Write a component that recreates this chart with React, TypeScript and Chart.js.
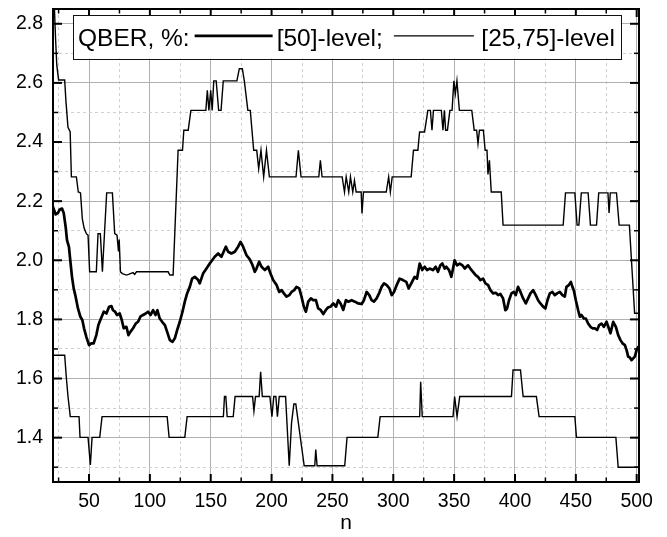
import { useEffect, useRef } from "react";
import { Chart, registerables } from "chart.js";

Chart.register(...registerables);

const FONT = "'Liberation Sans', Arial, Helvetica, sans-serif";

const xRange = [20.4, 501.9];
const yRange = [1.25, 2.85];
const xMajorTicks = [50, 100, 150, 200, 250, 300, 350, 400, 450, 500];
const xMinorTicks = [25, 75, 125, 175, 225, 275, 325, 375, 425, 475];
const yMajorTicks = [1.4, 1.6, 1.8, 2.0, 2.2, 2.4, 2.6, 2.8];
const yMinorTicks = [1.3, 1.5, 1.7, 1.9, 2.1, 2.3, 2.5, 2.7];
const legendTitle = "QBER, %:";
const medianLabel = "[50]-level;";
const quartileLabel = "[25,75]-level";
const xTitle = "n";

// upper quartile (75 %) level
const upperN = [
  20.4, 22.5, 23.5, 25, 30, 31, 32.7, 34.5, 35.5, 39.6, 41.2, 43, 44.5, 45.9, 47.8, 49.2, 50.5, 56, 57.4, 59.3,
  61, 64.5, 69.2, 71.1, 73, 74.2, 74.8, 75.8, 77.4, 80.7, 83, 86.2, 87.5, 89, 115, 116.4, 119.1, 123.2, 126.8, 127.9,
  131.5, 133.7, 146, 147.2, 148.5, 150, 151.2, 152.5, 154.5, 156.5, 158.5, 160.3, 171.5, 173.5, 176, 177.6, 180.5, 182.5, 185.3, 187.8,
  189.4, 191.3, 193.5, 195.8, 198.2, 220.1, 222, 224.2, 238.8, 240.1, 241.5, 258, 259.9, 261.3, 263.4, 264.8, 266.7, 268.1, 269.5, 273.6,
  274.3, 275.5, 294.2, 296.2, 297.6, 299.1, 314.7, 316.6, 320.2, 321.6, 325.7, 328.4, 330.5, 331.8, 333, 339.5, 340.8, 342, 343, 344.5,
  346.5, 348.3, 349.8, 351, 352.3, 354.3, 364.5, 366.5, 368.5, 369.6, 370.8, 374, 375.5, 377, 377.8, 379, 380.5, 388.7, 390.2, 439.6,
  441.5, 449.2, 451, 452.5, 454.5, 460.1, 462, 467, 468.8, 476.4, 477.3, 478.3, 483.4, 485.6, 494, 498.3, 501.9,
];
const upperQ = [
  2.98, 2.75, 2.66, 2.61, 2.61, 2.54, 2.45, 2.435, 2.282, 2.282, 2.231, 2.228, 2.14, 2.11, 2.09, 2.085, 1.961, 1.961, 2.09, 2.09,
  1.961, 2.228, 2.228, 2.09, 2.085, 2.03, 2.07, 1.961, 1.955, 1.95, 1.953, 1.958, 1.952, 1.961, 1.961, 1.95, 1.95, 2.372, 2.372, 2.44,
  2.44, 2.507, 2.507, 2.575, 2.507, 2.575, 2.507, 2.607, 2.607, 2.507, 2.507, 2.607, 2.607, 2.648, 2.648, 2.607, 2.507, 2.507, 2.372, 2.372,
  2.31, 2.372, 2.282, 2.372, 2.282, 2.282, 2.372, 2.282, 2.282, 2.338, 2.282, 2.282, 2.231, 2.282, 2.231, 2.282, 2.231, 2.27, 2.231, 2.231,
  2.158, 2.231, 2.231, 2.282, 2.231, 2.282, 2.282, 2.372, 2.372, 2.434, 2.434, 2.507, 2.507, 2.44, 2.507, 2.507, 2.44, 2.507, 2.44, 2.44,
  2.507, 2.507, 2.607, 2.563, 2.607, 2.507, 2.507, 2.44, 2.44, 2.395, 2.44, 2.44, 2.372, 2.372, 2.29, 2.338, 2.231, 2.231, 2.119, 2.119,
  2.228, 2.228, 2.119, 2.119, 2.228, 2.228, 2.119, 2.119, 2.228, 2.228, 2.16, 2.228, 2.228, 2.119, 2.119, 1.821, 1.821,
];

// median (50 %) level
const medianN = [
  20.4, 22.6, 24.5, 25.9, 27.8, 29.2, 30.8, 31.9, 33.5, 34.6, 36, 37.4, 39, 40.9, 42.9, 44.5, 45.9, 47.8, 50, 51.9,
  53.8, 56, 57.7, 59.3, 61, 62.1, 64.3, 66.5, 68.4, 69.7, 71.4, 73, 75.2, 76.9, 78.5, 80.7, 82.4, 84, 86.2, 88.4,
  90.3, 92.2, 94.4, 96.6, 98.5, 100.5, 102.7, 104.6, 106.2, 108.1, 110.1, 112.3, 114.2, 116.4, 118.6, 120.5, 122.4, 124.6, 126.8, 128.7,
  130.6, 132.8, 134.7, 136.9, 139.7, 141, 143.7, 146.5, 149.2, 153.3, 156.1, 158.8, 162.4, 164.3, 167, 169.8, 172.5, 174.5, 176.6, 179.4,
  182.1, 184.3, 186.2, 187.6, 189.8, 191.7, 194.5, 197.2, 199.1, 201.3, 204.1, 206.3, 208.2, 210.1, 212.3, 214.5, 216.4, 218.6, 220.5, 222.7,
  224.6, 226.5, 228.2, 230.1, 232.3, 234.2, 236.4, 238.3, 240.3, 242.5, 244.6, 246.6, 248.5, 250.7, 252.9, 254.8, 256.7, 258.9, 261.1, 263,
  265.8, 268.5, 271.2, 274, 275.9, 278.1, 280.3, 282.2, 284.1, 286.3, 288.5, 290.4, 292.4, 294.6, 296.8, 298.7, 300.6, 302.8, 305.2, 307.9,
  310.7, 312.6, 314.8, 317.5, 319.5, 321.7, 323.8, 325.8, 327.7, 329.9, 332.6, 334.8, 336.7, 338.7, 340.3, 342.2, 343.6, 345.8, 347.7, 349.1,
  350.4, 352.4, 354.6, 356.8, 358.7, 361.4, 363.3, 365.5, 367.7, 369.6, 371.6, 373.8, 375.7, 377.9, 379.8, 382, 384.2, 386.1, 388, 390.2,
  392.1, 393.5, 395.1, 397.1, 399, 400.6, 402.5, 404.5, 406.7, 408.9, 410.8, 412.7, 414.9, 417.1, 419, 420.9, 423.1, 425, 426.7, 428.6,
  430.8, 432.7, 434.6, 436.8, 439, 440.9, 442.3, 444.2, 445.9, 447.2, 448.3, 450, 451.9, 453.3, 454.6, 456.6, 458.2, 460.1, 462, 463.7,
  465.6, 467.5, 469.2, 471.1, 473, 475.2, 477.1, 478.5, 480.7, 482.9, 484.8, 486.7, 488.4, 490.3, 491.7, 493, 494.4, 495.8, 497.1, 498.5,
  499.9, 501.3,
];
const medianQ = [
  2.18, 2.155, 2.16, 2.172, 2.175, 2.16, 2.113, 2.068, 2.045, 2.0, 1.944, 1.905, 1.877, 1.837, 1.809, 1.798, 1.77, 1.741, 1.713, 1.719,
  1.719, 1.747, 1.781, 1.798, 1.815, 1.826, 1.82, 1.843, 1.845, 1.831, 1.826, 1.815, 1.82, 1.798, 1.77, 1.775, 1.747, 1.758, 1.77, 1.786,
  1.792, 1.809, 1.815, 1.82, 1.826, 1.815, 1.831, 1.815, 1.831, 1.803, 1.792, 1.781, 1.758, 1.73, 1.724, 1.736, 1.764, 1.792, 1.826, 1.86,
  1.888, 1.91, 1.938, 1.944, 1.933, 1.922, 1.955, 1.972, 1.989, 2.012, 2.023, 2.012, 2.046, 2.029, 2.023, 2.029, 2.046, 2.062, 2.046, 2.017,
  2.003, 1.984, 1.961, 1.972, 1.995, 1.978, 1.967, 1.978, 1.955, 1.933, 1.916, 1.893, 1.899, 1.888, 1.877, 1.882, 1.893, 1.899, 1.91, 1.905,
  1.877, 1.843, 1.826, 1.86, 1.871, 1.865, 1.865, 1.837, 1.832, 1.818, 1.832, 1.841, 1.843, 1.854, 1.843, 1.865, 1.854, 1.832, 1.865, 1.86,
  1.865, 1.86, 1.854, 1.852, 1.865, 1.893, 1.882, 1.865, 1.86, 1.871, 1.89, 1.91, 1.922, 1.916, 1.905, 1.882, 1.893, 1.916, 1.938, 1.933,
  1.927, 1.905, 1.922, 1.944, 1.938, 1.989, 1.967, 1.978, 1.967, 1.972, 1.967, 1.978, 1.961, 1.983, 1.989, 1.972, 1.978, 1.967, 1.944, 1.972,
  2.0, 1.983, 1.989, 1.983, 1.972, 1.983, 1.972, 1.961, 1.95, 1.944, 1.933, 1.938, 1.922, 1.916, 1.899, 1.888, 1.89, 1.882, 1.886, 1.871,
  1.831, 1.837, 1.865, 1.888, 1.893, 1.882, 1.91, 1.893, 1.871, 1.854, 1.871, 1.888, 1.899, 1.882, 1.865, 1.854, 1.843, 1.837, 1.865, 1.888,
  1.893, 1.882, 1.888, 1.893, 1.882, 1.877, 1.91, 1.916, 1.927, 1.91, 1.899, 1.865, 1.831, 1.809, 1.815, 1.803, 1.803, 1.786, 1.775, 1.77,
  1.77, 1.764, 1.781, 1.786, 1.775, 1.792, 1.77, 1.753, 1.792, 1.775, 1.747, 1.73, 1.719, 1.713, 1.696, 1.674, 1.671, 1.662, 1.668, 1.674,
  1.696, 1.707,
];

// lower quartile (25 %) level
const lowerN = [
  20.4, 30, 31.3, 32.7, 34.6, 41.8, 42.6, 49.2, 51.1, 52.5, 58.8, 60.7, 114.2, 115.8, 128.7, 130.6, 160.4, 161.3, 162.4, 163.5,
  168.5, 170, 184.4, 185.5, 186.8, 189.8, 191, 192.4, 198.6, 200.3, 201.8, 203.5, 204.8, 206.3, 211.5, 214.5, 216.4, 218.3, 219.9, 226.8,
  235.5, 236.3, 237.4, 260.1, 262, 287.3, 289.2, 321.7, 322.5, 323.8, 349.1, 350.4, 352.4, 354.6, 397.1, 398.4, 404.5, 406.7, 417.6, 419.8,
  449.2, 450.5, 482.9, 484.8, 501.9,
];
const lowerQ = [
  1.679, 1.679, 1.606, 1.54, 1.471, 1.471, 1.401, 1.401, 1.308, 1.401, 1.401, 1.471, 1.471, 1.401, 1.401, 1.471, 1.471, 1.539, 1.539, 1.471,
  1.471, 1.539, 1.539, 1.49, 1.539, 1.539, 1.623, 1.539, 1.539, 1.471, 1.539, 1.539, 1.471, 1.539, 1.539, 1.305, 1.45, 1.514, 1.514, 1.305,
  1.305, 1.36, 1.305, 1.305, 1.401, 1.401, 1.471, 1.471, 1.589, 1.471, 1.471, 1.539, 1.471, 1.539, 1.539, 1.629, 1.629, 1.539, 1.539, 1.471,
  1.471, 1.401, 1.401, 1.3, 1.3,
];

const toPoints = (ns: number[], qs: number[]) => ns.map((n, i) => ({ x: n, y: qs[i] }));

const frameAndLegend = {
  id: "frameAndLegend",
  afterDatasetsDraw(chart: any) {
    const { ctx, chartArea: a, scales } = chart;
    const xs = scales.x;
    const ys = scales.y;
    ctx.save();
    ctx.strokeStyle = "#000";
    ctx.lineCap = "butt";
    const seg = (x1: number, y1: number, x2: number, y2: number, w: number) => {
      ctx.lineWidth = w;
      ctx.beginPath();
      ctx.moveTo(x1, y1);
      ctx.lineTo(x2, y2);
      ctx.stroke();
    };
    xMajorTicks.forEach((v) => {
      const p = xs.getPixelForValue(v);
      seg(p, a.bottom, p, a.bottom - 8, 2);
      seg(p, a.top, p, a.top + 8, 2);
    });
    xMinorTicks.forEach((v) => {
      const p = xs.getPixelForValue(v);
      seg(p, a.bottom, p, a.bottom - 4.5, 1.5);
      seg(p, a.top, p, a.top + 4.5, 1.5);
    });
    yMajorTicks.forEach((v) => {
      const p = ys.getPixelForValue(v);
      seg(a.left, p, a.left + 9, p, 2);
      seg(a.right, p, a.right - 9, p, 2);
    });
    yMinorTicks.forEach((v) => {
      const p = ys.getPixelForValue(v);
      seg(a.left, p, a.left + 5, p, 1.5);
      seg(a.right, p, a.right - 5, p, 1.5);
    });
    ctx.lineWidth = 2;
    ctx.strokeRect(a.left, a.top, a.right - a.left, a.bottom - a.top);

    // legend box
    const lx = a.left + 20.3;
    const ly = a.top + 6;
    const lw = 547.5;
    const lh = 43.5;
    ctx.fillStyle = "#fff";
    ctx.fillRect(lx, ly, lw, lh);
    ctx.lineWidth = 1;
    ctx.strokeStyle = "#111";
    ctx.strokeRect(Math.round(lx) + 0.5, Math.round(ly) + 0.5, Math.round(lw), Math.round(lh));
    ctx.strokeStyle = "#000";
    ctx.font = `24.5px ${FONT}`;
    ctx.fillStyle = "#000";
    ctx.textBaseline = "alphabetic";
    ctx.textAlign = "left";
    const base = ly + 31.3;
    const lineY = base - 10.5;
    let x = lx + 4.7;
    ctx.fillText(legendTitle, x, base);
    x += ctx.measureText(legendTitle).width + 5;
    seg(x, lineY, x + 78, lineY, 2.8);
    x += 78 + 4;
    ctx.fillText(medianLabel, x, base);
    x += ctx.measureText(medianLabel).width + 11;
    seg(x, lineY, x + 80, lineY, 1.3);
    x += 80 + 7.5;
    ctx.fillText(quartileLabel, x, base);
    ctx.restore();
  },
};

export default function App() {
  const ref = useRef<HTMLCanvasElement>(null);

  useEffect(() => {
    document.body.style.margin = "0";
    const canvas = ref.current;
    if (!canvas) return;
    const chart = new Chart(canvas, {
      type: "line",
      data: {
        datasets: [
          {
            label: "[25,75]-level (75)",
            data: toPoints(upperN, upperQ),
            borderColor: "#000",
            borderWidth: 1.4,
            pointRadius: 0,
            tension: 0,
            fill: false,
          },
          {
            label: "[50]-level",
            data: toPoints(medianN, medianQ),
            borderColor: "#000",
            borderWidth: 2.7,
            pointRadius: 0,
            tension: 0,
            fill: false,
            borderJoinStyle: "round",
            borderCapStyle: "round",
          },
          {
            label: "[25,75]-level (25)",
            data: toPoints(lowerN, lowerQ),
            borderColor: "#000",
            borderWidth: 1.4,
            pointRadius: 0,
            tension: 0,
            fill: false,
          },
        ],
      },
      options: {
        responsive: false,
        animation: false,
        events: [],
        layout: { padding: { top: 9, right: 28, left: 0, bottom: 0 } },
        plugins: { legend: { display: false }, tooltip: { enabled: false } },
        scales: {
          x: {
            type: "linear",
            position: "bottom",
            min: xRange[0],
            max: xRange[1],
            afterBuildTicks: (s: any) => {
              s.ticks = xMajorTicks.map((v) => ({ value: v }));
            },
            afterFit: (s: any) => {
              s.height = 55;
              s.paddingLeft = 0;
              s.paddingRight = 0;
            },
            ticks: {
              color: "#000",
              font: { family: FONT, size: 19.5 },
              padding: 8,
              maxRotation: 0,
              autoSkip: false,
              callback: (v: any) => String(v),
            },
            grid: { color: "#b0b0b0", lineWidth: 1, drawTicks: false },
            border: { display: false },
            title: {
              display: true,
              text: xTitle,
              color: "#000",
              font: { family: FONT, size: 21 },
              padding: { top: 0, bottom: 1 },
            },
          },
          xMinor: {
            type: "linear",
            position: "bottom",
            min: xRange[0],
            max: xRange[1],
            afterBuildTicks: (s: any) => {
              s.ticks = xMinorTicks.map((v) => ({ value: v }));
            },
            afterFit: (s: any) => {
              s.height = 0;
              s.paddingLeft = 0;
              s.paddingRight = 0;
            },
            ticks: { display: false },
            grid: { color: "#d0d0d0", lineWidth: 1, drawTicks: false },
            border: { display: false, dash: [3, 3] },
          },
          y: {
            type: "linear",
            position: "left",
            min: yRange[0],
            max: yRange[1],
            afterBuildTicks: (s: any) => {
              s.ticks = yMajorTicks.map((v) => ({ value: v }));
            },
            afterFit: (s: any) => {
              s.width = 53;
              s.paddingTop = 0;
              s.paddingBottom = 0;
            },
            ticks: {
              color: "#000",
              font: { family: FONT, size: 19.5 },
              padding: 10,
              autoSkip: false,
              callback: (v: any) => Number(v).toFixed(1),
            },
            grid: { color: "#b0b0b0", lineWidth: 1, drawTicks: false },
            border: { display: false },
          },
          yMinor: {
            type: "linear",
            position: "left",
            min: yRange[0],
            max: yRange[1],
            afterBuildTicks: (s: any) => {
              s.ticks = yMinorTicks.map((v) => ({ value: v }));
            },
            afterFit: (s: any) => {
              s.width = 0;
              s.paddingTop = 0;
              s.paddingBottom = 0;
            },
            ticks: { display: false },
            grid: { color: "#d0d0d0", lineWidth: 1, drawTicks: false },
            border: { display: false, dash: [3, 3] },
          },
        },
      } as any,
      plugins: [frameAndLegend],
    });
    return () => chart.destroy();
  }, []);

  return (
    <div style={{ width: 667, height: 537 }}>
      <canvas ref={ref} width={667} height={537} style={{ display: "block", width: 667, height: 537 }} />
    </div>
  );
}
